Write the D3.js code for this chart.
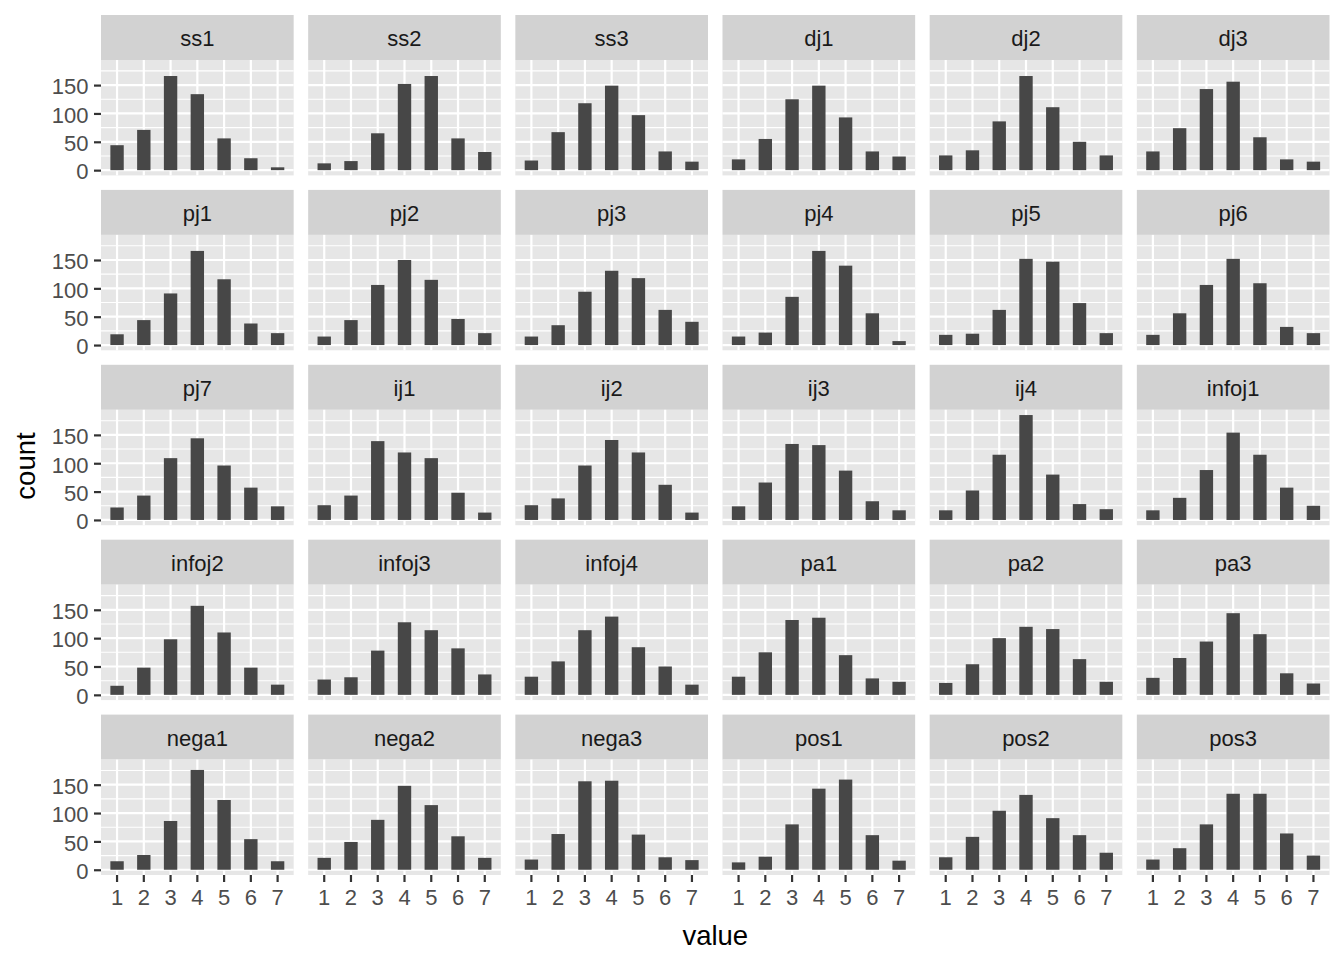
<!DOCTYPE html>
<html><head><meta charset="utf-8">
<script src="https://cdn.jsdelivr.net/npm/d3@7"></script>
<style>body{margin:0;background:#fff} svg{display:block} text{font-family:"Liberation Sans",Arial,Helvetica,sans-serif}</style>
</head><body><svg id="chart" width="1344" height="960"></svg>
<script>
// ---- data ----
const values = [1, 2, 3, 4, 5, 6, 7];
const yTicks = [0, 50, 100, 150];
const yMinor = [25, 75, 125, 175];
const facetNames = ["ss1","ss2","ss3","dj1","dj2","dj3",
  "pj1","pj2","pj3","pj4","pj5","pj6",
  "pj7","ij1","ij2","ij3","ij4","infoj1",
  "infoj2","infoj3","infoj4","pa1","pa2","pa3",
  "nega1","nega2","nega3","pos1","pos2","pos3"];
const ss1    = [44, 71, 166, 134, 56, 21, 5];
const ss2    = [12, 16, 65, 152, 166, 56, 32];
const ss3    = [17, 67, 118, 149, 97, 33, 15];
const dj1    = [19, 55, 125, 149, 93, 33, 24];
const dj2    = [26, 35, 86, 166, 111, 50, 26];
const dj3    = [33, 74, 143, 156, 58, 19, 15];
const pj1    = [19, 44, 91, 166, 116, 38, 21];
const pj2    = [15, 44, 106, 150, 115, 46, 21];
const pj3    = [15, 35, 94, 131, 118, 62, 41];
const pj4    = [15, 22, 85, 166, 140, 56, 7];
const pj5    = [18, 20, 62, 152, 147, 74, 21];
const pj6    = [18, 56, 106, 152, 109, 32, 21];
const pj7    = [22, 43, 109, 144, 96, 57, 24];
const ij1    = [26, 43, 139, 119, 109, 48, 13];
const ij2    = [26, 38, 96, 141, 119, 62, 13];
const ij3    = [24, 66, 134, 132, 87, 33, 17];
const ij4    = [17, 52, 115, 185, 80, 28, 19];
const infoj1 = [17, 39, 88, 154, 115, 57, 25];
const infoj2 = [16, 48, 98, 157, 110, 48, 18];
const infoj3 = [27, 31, 78, 128, 114, 82, 36];
const infoj4 = [32, 59, 114, 138, 84, 50, 18];
const pa1    = [32, 75, 132, 136, 70, 29, 23];
const pa2    = [21, 54, 100, 120, 116, 63, 23];
const pa3    = [30, 65, 94, 144, 107, 38, 20];
const nega1  = [15, 26, 86, 176, 123, 54, 15];
const nega2  = [21, 49, 88, 148, 114, 59, 21];
const nega3  = [18, 63, 156, 157, 62, 22, 17];
const pos1   = [13, 23, 80, 143, 159, 61, 16];
const pos2   = [22, 58, 104, 132, 91, 61, 30];
const pos3   = [18, 38, 80, 134, 134, 64, 25];
const facetCounts = [ss1,ss2,ss3,dj1,dj2,dj3,pj1,pj2,pj3,pj4,pj5,pj6,
  pj7,ij1,ij2,ij3,ij4,infoj1,infoj2,infoj3,infoj4,pa1,pa2,pa3,
  nega1,nega2,nega3,pos1,pos2,pos3];

// ---- layout ----
const svg = d3.select("#chart");
const L = 101, R = 1329.5, T = 15, B = 875, gap = 14.5, stripH = 45;
const ncol = 6, nrow = 5;
const pw = (R - L - gap * (ncol - 1)) / ncol;
const rowH = (B - T - gap * (nrow - 1)) / nrow;
const ph = rowH - stripH;

const maxCount = d3.max(facetCounts, a => d3.max(a));
const y = d3.scaleLinear().domain([-0.05 * maxCount, 1.05 * maxCount]).range([ph, 0]);
const x = d3.scaleBand().domain(values).range([0, pw]).paddingInner(0.5).paddingOuter(0.35);
const cx = v => x(v) + x.bandwidth() / 2;

const PANEL = "#e6e6e6", STRIP = "#d2d2d2", BAR = "#474747";
const FONT = '"Liberation Sans",Arial,Helvetica,sans-serif';

facetNames.forEach((name, i) => {
  const col = i % ncol, row = Math.floor(i / ncol);
  const gx = L + col * (pw + gap);
  const gy = T + row * (rowH + gap);
  const g = svg.append("g").attr("transform", `translate(${gx},${gy})`);

  // strip
  g.append("rect").attr("width", pw).attr("height", stripH).attr("fill", STRIP);
  g.append("text").attr("x", pw / 2).attr("y", stripH / 2 + 1).attr("dy", "0.36em")
    .attr("text-anchor", "middle").attr("font-size", 22).attr("fill", "#1a1a1a").text(name);

  const p = g.append("g").attr("transform", `translate(0,${stripH})`);
  p.append("rect").attr("width", pw).attr("height", ph).attr("fill", PANEL);

  // minor grid
  p.selectAll(".ymin").data(yMinor).join("line")
    .attr("x1", 0).attr("x2", pw).attr("y1", d => y(d)).attr("y2", d => y(d))
    .attr("stroke", "#fff").attr("stroke-width", 1.1);
  // major grid
  p.selectAll(".ymaj").data(yTicks).join("line")
    .attr("x1", 0).attr("x2", pw).attr("y1", d => y(d)).attr("y2", d => y(d))
    .attr("stroke", "#fff").attr("stroke-width", 2.2);
  p.selectAll(".xmaj").data(values).join("line")
    .attr("y1", 0).attr("y2", ph).attr("x1", d => cx(d)).attr("x2", d => cx(d))
    .attr("stroke", "#fff").attr("stroke-width", 2.2);

  // bars
  const counts = facetCounts[i];
  p.selectAll(".bar").data(values).join("rect")
    .attr("x", d => x(d)).attr("width", x.bandwidth())
    .attr("y", (d, j) => y(counts[j])).attr("height", (d, j) => y(0) - y(counts[j]))
    .attr("fill", BAR);

  // axes
  if (col === 0) {
    const ax = p.append("g").call(d3.axisLeft(y).tickValues(yTicks).tickSize(7).tickPadding(5.5));
    ax.select(".domain").remove();
    ax.selectAll(".tick line").attr("stroke", "#333").attr("stroke-width", 2.2);
    ax.selectAll(".tick text").attr("font-size", 22).attr("fill", "#4d4d4d")
      .attr("font-family", FONT).attr("dy", "0.4em");
  }
  if (row === nrow - 1) {
    const ax = p.append("g").attr("transform", `translate(0,${ph})`)
      .call(d3.axisBottom(x).tickSize(7).tickPadding(7.5));
    ax.select(".domain").remove();
    ax.selectAll(".tick line").attr("stroke", "#333").attr("stroke-width", 2.2);
    ax.selectAll(".tick text").attr("font-size", 22).attr("fill", "#4d4d4d")
      .attr("font-family", FONT);
  }
});

// titles
svg.append("text").attr("x", (L + R) / 2).attr("y", 945).attr("text-anchor", "middle")
  .attr("font-size", 27.5).attr("fill", "#000").text("value");
svg.append("text").attr("transform", `translate(35,466) rotate(-90)`)
  .attr("text-anchor", "middle").attr("font-size", 27.5).attr("fill", "#000").text("count");
</script></body></html>
